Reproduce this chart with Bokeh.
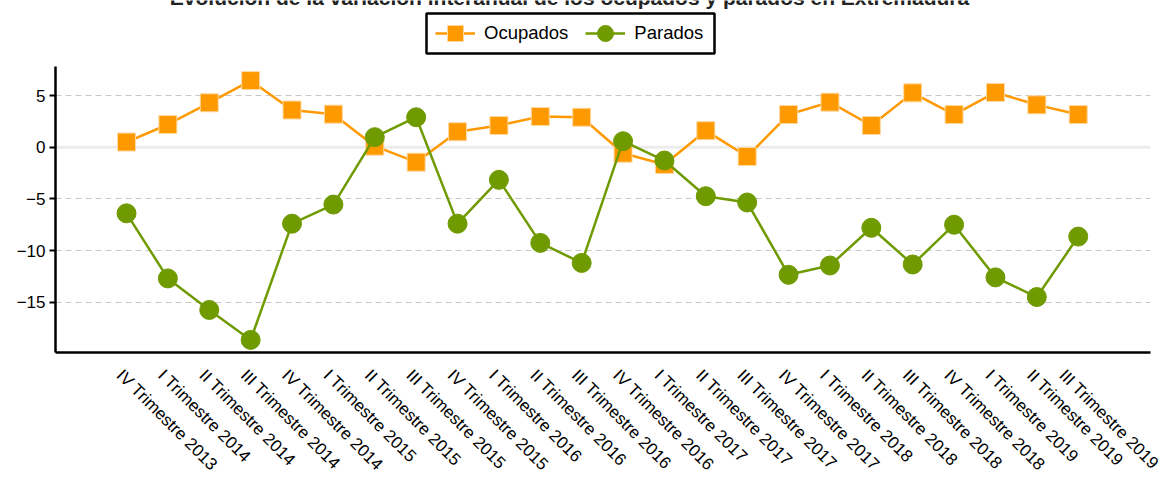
import math
from bokeh.plotting import figure
from bokeh.models import (ColumnDataSource, FixedTicker, Legend, LegendItem,
                          Label, Span, Range1d, BoxAnnotation)
from bokeh.embed import file_html
from bokeh.resources import INLINE

categorias = [
    "IV Trimestre 2013",
    "I Trimestre 2014", "II Trimestre 2014", "III Trimestre 2014", "IV Trimestre 2014",
    "I Trimestre 2015", "II Trimestre 2015", "III Trimestre 2015", "IV Trimestre 2015",
    "I Trimestre 2016", "II Trimestre 2016", "III Trimestre 2016", "IV Trimestre 2016",
    "I Trimestre 2017", "II Trimestre 2017", "III Trimestre 2017", "IV Trimestre 2017",
    "I Trimestre 2018", "II Trimestre 2018", "III Trimestre 2018", "IV Trimestre 2018",
    "I Trimestre 2019", "II Trimestre 2019", "III Trimestre 2019",
]
ocupados = [0.5, 2.2, 4.3, 6.45, 3.6, 3.2, 0.1, -1.45, 1.5, 2.1, 2.97, 2.9,
            -0.58, -1.67, 1.6, -0.9, 3.16, 4.36, 2.1, 5.26, 3.16, 5.3, 4.1, 3.16]
parados = [-6.4, -12.7, -15.75, -18.65, -7.4, -5.55, 0.97, 2.9, -7.4, -3.16,
           -9.26, -11.2, 0.58, -1.29, -4.74, -5.35, -12.35, -11.45, -7.8, -11.35,
           -7.5, -12.6, -14.5, -8.65]
y_ticks = [-15, -10, -5, 0, 5]
titulo = "Evolución de la variación interanual de los ocupados y parados en Extremadura"

NARANJA = "#FF9900"
VERDE = "#6F9A00"
FONT = "Liberation Sans"

x = list(range(len(categorias)))
src = ColumnDataSource(dict(x=x, ocupados=ocupados, parados=parados))

Y_MIN, Y_AXIS_TOP = -19.87, 7.81
p = figure(width=1162, height=489, output_backend="svg", toolbar_location=None,
           x_range=Range1d(-1.716, len(categorias) - 1 + 1.747),
           y_range=Range1d(Y_MIN, 14.2),
           min_border_left=55, min_border_right=12,
           min_border_top=0, min_border_bottom=137)
p.outline_line_color = None
p.background_fill_color = "white"
p.border_fill_color = "white"

# grid
p.xgrid.grid_line_color = None
p.ygrid.ticker = FixedTicker(ticks=y_ticks)
p.ygrid.grid_line_color = "#c8c8c8"
p.ygrid.grid_line_dash = "6 4"
p.ygrid.grid_line_width = 1
zero = Span(location=0, dimension="width", line_color="#ececec", line_width=3,
            level="underlay")
p.add_layout(zero)

# axes (category labels hang slightly left of their point, as in the reference)
label_ticks = [i - 0.17 for i in x]
xa = p.xaxis[0]
xa.ticker = FixedTicker(ticks=label_ticks)
xa.major_label_overrides = {t: c for t, c in zip(label_ticks, categorias)}
xa.major_label_orientation = -math.pi / 4
xa.major_label_text_font = FONT
xa.major_label_text_font_size = "17px"
xa.major_label_text_color = "black"
xa.major_tick_line_color = None
xa.minor_tick_line_color = None
xa.axis_line_width = 2.5
xa.axis_line_color = "black"
xa.major_label_standoff = 14

ya = p.yaxis[0]
ya.ticker = FixedTicker(ticks=y_ticks)
ya.bounds = (Y_MIN, Y_AXIS_TOP)
ya.major_label_text_font = FONT
ya.major_label_text_font_size = "17px"
ya.major_label_text_color = "black"
ya.major_tick_out = 6
ya.major_tick_in = 0
ya.major_tick_line_width = 2
ya.minor_tick_line_color = None
ya.axis_line_width = 2.5
ya.axis_line_color = "black"
ya.major_label_standoff = 4

# series
l1 = p.line("x", "ocupados", source=src, line_color=NARANJA, line_width=2.5)
s1 = p.scatter("x", "ocupados", source=src, marker="square", size=18,
               fill_color=NARANJA, line_color="#FFD9A0", line_width=1)
l2 = p.line("x", "parados", source=src, line_color=VERDE, line_width=2.5)
s2 = p.scatter("x", "parados", source=src, marker="circle", size=19,
               fill_color=VERDE, line_color=VERDE, line_width=1)

# legend frame (box) + legend
legend_box = BoxAnnotation(left=371, right=659, top=339, bottom=299,
                           left_units="screen", right_units="screen",
                           top_units="screen", bottom_units="screen",
                           fill_color="white", fill_alpha=1,
                           line_color="black", line_width=2.5, line_alpha=1)
p.add_layout(legend_box)

legend = Legend(items=[LegendItem(label="Ocupados", renderers=[l1, s1]),
                       LegendItem(label="Parados", renderers=[l2, s2])],
                orientation="horizontal", location=(380, 299),
                label_text_font=FONT, label_text_font_size="18.5px",
                label_text_color="black",
                glyph_width=40, glyph_height=40, label_height=40,
                label_standoff=9, spacing=17, padding=0, margin=0,
                border_line_color=None, background_fill_alpha=0)
p.add_layout(legend, "center")

title = Label(x=514, y=355, x_units="screen", y_units="screen", text=titulo,
              text_align="center", text_baseline="alphabetic",
              text_font=FONT, text_font_size="21px", text_font_style="bold",
              text_color="#222222")
p.add_layout(title)

open("out.html", "w").write(file_html(p, INLINE))
